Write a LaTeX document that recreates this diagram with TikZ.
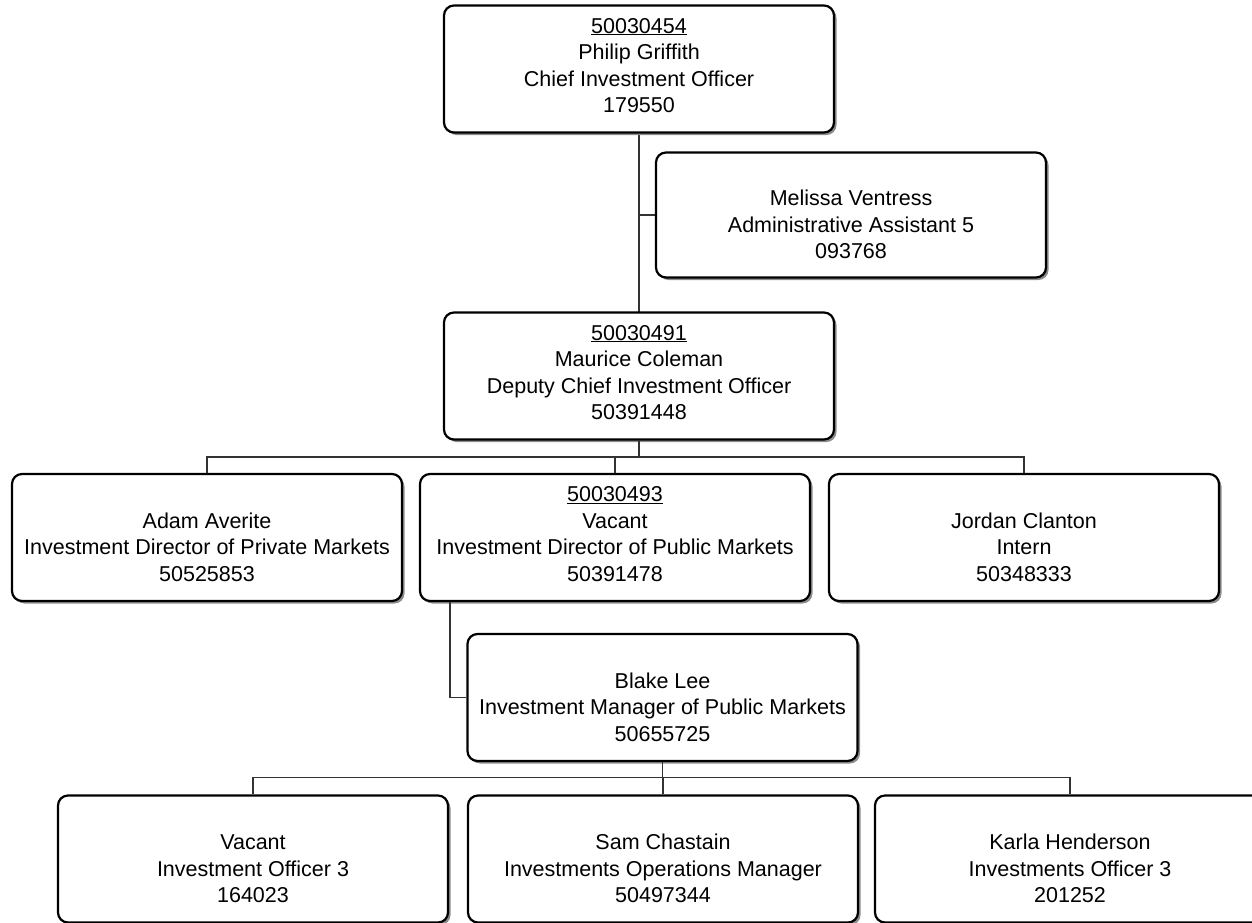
\documentclass[tikz,border=0pt]{standalone}
\usepackage{fontspec}
\setmainfont{Liberation Sans}
\usetikzlibrary{shadows}
\tikzset{
  person/.style={draw=black, line width=2.2pt, fill=white, rounded corners=10pt,
    minimum width=390pt, minimum height=127pt, inner sep=0pt,
    drop shadow={shadow xshift=2.5pt, shadow yshift=-2.5pt, fill=black!45, opacity=1}},
  caption/.style={inner sep=0pt, align=center, font=\fontsize{21.5}{26.6}\selectfont},
  link/.style={draw=black!80, line width=1.3pt}
}
% an empty first line keeps the three-line captions level with the four-line ones
\newcommand{\noid}{\phantom{0}\\}
% a box with its caption set slightly above the centre
\newcommand{\personbox}[4][]{%
  \node[person,#1] (#2) at #3 {};
  \node[caption] (#2-text) at ([yshift=3.5pt]#2.center) {#4};
}
\begin{document}
\begin{tikzpicture}[x=1pt, y=-1pt]
\useasboundingbox (0,0) rectangle (1252,922);
\clip (0,0) rectangle (1252,922);

% line from the CIO down to the deputy, with the assistant's branch
\coordinate (ceoBase) at (639,133);
\coordinate (dcioTop) at (639,312);
\coordinate (asstJoin) at (639,215);
\draw[link] (ceoBase) -- (dcioTop);
\draw[link] (asstJoin) -- (655,215);

% boxes
\personbox{ceo}{(639,69)}{\underline{50030454}\\Philip Griffith\\Chief Investment Officer\\179550}
\personbox[minimum height=125pt]{asst}{(851,215)}{\noid Melissa Ventress\\Administrative Assistant 5\\093768}
\personbox{dcio}{(639,376)}{\underline{50030491}\\Maurice Coleman\\Deputy Chief Investment Officer\\50391448}
\personbox{adam}{(207,537.5)}{\noid Adam Averite\\Investment Director of Private Markets\\50525853}
\personbox{dir}{(615,537.5)}{\underline{50030493}\\Vacant\\Investment Director of Public Markets\\50391478}
\personbox{jordan}{(1024,537.5)}{\noid Jordan Clanton\\Intern\\50348333}
\personbox{blake}{(662.5,697.5)}{\noid Blake Lee\\Investment Manager of Public Markets\\50655725}
\personbox{off3}{(253,859)}{\noid Vacant\\Investment Officer 3\\164023}
\personbox{sam}{(663,859)}{\noid Sam Chastain\\Investments Operations Manager\\50497344}
\personbox{karla}{(1070,859)}{\noid Karla Henderson\\Investments Officer 3\\201252}

% reporting lines
\draw[link] (dcio.south) -- ++(0,17);
\draw[link] (adam.north) -- ++(0,-16) -| (jordan.north);
\draw[link] (dir.north) -- ++(0,-16);
\draw[link] ([xshift=31pt]dir.south west) |- (blake.west);
\draw[link] (blake.south) -- ++(0,16);
\draw[link] (off3.north) -- ++(0,-17) -| (karla.north);
\draw[link] (sam.north) -- ++(0,-17);
\end{tikzpicture}
\end{document}
